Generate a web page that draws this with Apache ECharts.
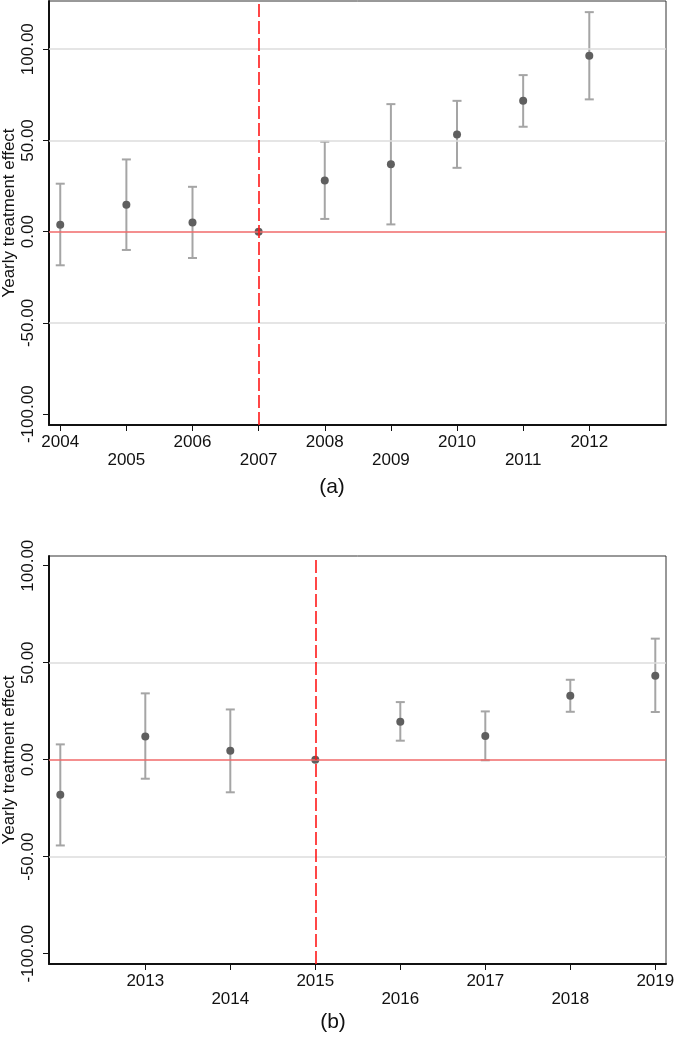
<!DOCTYPE html>
<html>
<head>
<meta charset="utf-8">
<script src="https://cdn.jsdelivr.net/npm/echarts@6/dist/echarts.min.js"></script>
<style>
  html, body { margin: 0; padding: 0; background: #fff; }
  #chart { width: 675px; height: 1053px; }
</style>
</head>
<body>
<div id="chart"></div>
<script>
// panel (a)
const yearsA = [2004, 2005, 2006, 2007, 2008, 2009, 2010, 2011, 2012];
const coefA  = [3.8, 14.8, 5.1, 0, 28.1, 36.9, 53.3, 71.7, 96.4];
const lowA   = [-18.4, -10.0, -14.4, null, 7.0, 4.0, 35.0, 57.5, 72.5];
const highA  = [26.3, 39.6, 24.6, null, 49.3, 69.9, 71.7, 85.8, 120.3];
const xTicksA = [2004, 2005, 2006, 2007, 2008, 2009, 2010, 2011, 2012];
const gridLinesA = [-50, 50, 100];
const eventA = 2007;

// panel (b)
const yearsB = [2012, 2013, 2014, 2015, 2016, 2017, 2018, 2019];
const coefB  = [-18.0, 12.0, 4.6, 0, 19.6, 12.2, 33.0, 43.3];
const lowB   = [-44.2, -9.8, -16.8, null, 9.8, -0.3, 24.7, 24.6];
const highB  = [7.9, 34.2, 25.9, null, 29.7, 24.9, 41.2, 62.4];
const xTicksB = [2013, 2014, 2015, 2016, 2017, 2018, 2019];
const gridLinesB = [-50, 50];
const eventB = 2015;

const yTicks = [-100, -50, 0, 50, 100];

const FONT = 'Liberation Sans, Arial, sans-serif';

function errData(years, lo, hi) {
  const out = [];
  years.forEach((y, i) => { if (lo[i] != null) out.push([y, lo[i], hi[i]]); });
  return out;
}

function renderErr(params, api) {
  const x = api.value(0);
  const pLo = api.coord([x, api.value(1)]);
  const pHi = api.coord([x, api.value(2)]);
  const w = 4.5;
  const st = { stroke: '#a5a5a5', lineWidth: 2 };
  return {
    type: 'group',
    children: [
      { type: 'line', shape: { x1: pLo[0], y1: pLo[1], x2: pHi[0], y2: pHi[1] }, style: st },
      { type: 'line', shape: { x1: pLo[0] - w, y1: pLo[1], x2: pLo[0] + w, y2: pLo[1] }, style: st },
      { type: 'line', shape: { x1: pHi[0] - w, y1: pHi[1], x2: pHi[0] + w, y2: pHi[1] }, style: st }
    ]
  };
}

function xAxisCfg(idx, min, max, ticks, oddFirst) {
  return {
    type: 'value', gridIndex: idx, min: min, max: max,
    axisLine: { show: true, onZero: false, lineStyle: { color: '#111', width: 2 } },
    axisTick: { show: true, length: 6, customValues: ticks, lineStyle: { color: '#111', width: 1 } },
    axisLabel: {
      customValues: ticks, margin: 8, color: '#111', fontSize: 17, fontFamily: FONT, lineHeight: 18,
      formatter: v => ((v % 2 === 1) === oddFirst ? '' : '\n') + v
    },
    splitLine: { show: false }
  };
}

function yAxisCfg(idx, min, max) {
  return {
    type: 'value', gridIndex: idx, min: min, max: max,
    name: 'Yearly treatment effect', nameLocation: 'middle', nameRotate: 90, nameGap: 31,
    nameMoveOverlap: false,
    nameTextStyle: { fontSize: 17, fontFamily: FONT, color: '#111' },
    axisLine: { show: true, onZero: false, lineStyle: { color: '#111', width: 2 } },
    axisTick: { show: true, length: 6, customValues: yTicks, lineStyle: { color: '#111', width: 1 } },
    axisLabel: {
      customValues: yTicks, rotate: 90, margin: 12, color: '#111', fontSize: 17, fontFamily: FONT,
      formatter: v => v.toFixed(2)
    },
    splitLine: { show: false }
  };
}

function refLines(idx, gridVals, eventYear) {
  return {
    type: 'scatter', xAxisIndex: idx, yAxisIndex: idx, data: [], z: 1, silent: true,
    markLine: {
      symbol: 'none', silent: true, animation: false, label: { show: false },
      data: gridVals.map(v => ({ yAxis: v, lineStyle: { color: '#dddddd', width: 1.5, type: 'solid' } }))
        .concat([
          { yAxis: 0, lineStyle: { color: '#f06a6a', width: 1.6, type: 'solid' } },
          { xAxis: eventYear, lineStyle: { color: '#ff1a1a', width: 1.6, type: [13, 4] } }
        ])
    }
  };
}

const chart = echarts.init(document.getElementById('chart'));
chart.setOption({
  animation: false,
  backgroundColor: '#fff',
  grid: [
    { left: 49, right: 9, top: 1, height: 424, show: true, borderColor: '#333', borderWidth: 1, outerBoundsMode: 'none', containLabel: false },
    { left: 49, right: 9, top: 556, height: 408, show: true, borderColor: '#333', borderWidth: 1, outerBoundsMode: 'none', containLabel: false }
  ],
  title: [
    { text: '(a)', left: 327, top: 472, textAlign: 'center', textStyle: { fontSize: 21, fontWeight: 'normal', fontFamily: FONT, color: '#111' } },
    { text: '(b)', left: 328, top: 1007, textAlign: 'center', textStyle: { fontSize: 21, fontWeight: 'normal', fontFamily: FONT, color: '#111' } }
  ],
  xAxis: [
    xAxisCfg(0, 2003.83, 2013.16, xTicksA, false),
    xAxisCfg(1, 2011.867, 2019.126, xTicksB, true)
  ],
  yAxis: [
    yAxisCfg(0, -105.9, 126.4),
    yAxisCfg(1, -105.3, 105)
  ],
  series: [
    refLines(0, gridLinesA, eventA),
    {
      type: 'custom', xAxisIndex: 0, yAxisIndex: 0, z: 2, renderItem: renderErr,
      encode: { x: 0, y: [1, 2] }, data: errData(yearsA, lowA, highA)
    },
    {
      type: 'scatter', xAxisIndex: 0, yAxisIndex: 0, z: 3, symbolSize: 8,
      itemStyle: { color: '#5f5f5f', opacity: 1 },
      data: yearsA.map((y, i) => [y, coefA[i]])
    },
    refLines(1, gridLinesB, eventB),
    {
      type: 'custom', xAxisIndex: 1, yAxisIndex: 1, z: 2, renderItem: renderErr,
      encode: { x: 0, y: [1, 2] }, data: errData(yearsB, lowB, highB)
    },
    {
      type: 'scatter', xAxisIndex: 1, yAxisIndex: 1, z: 3, symbolSize: 8,
      itemStyle: { color: '#5f5f5f', opacity: 1 },
      data: yearsB.map((y, i) => [y, coefB[i]])
    }
  ]
});
</script>
</body>
</html>
